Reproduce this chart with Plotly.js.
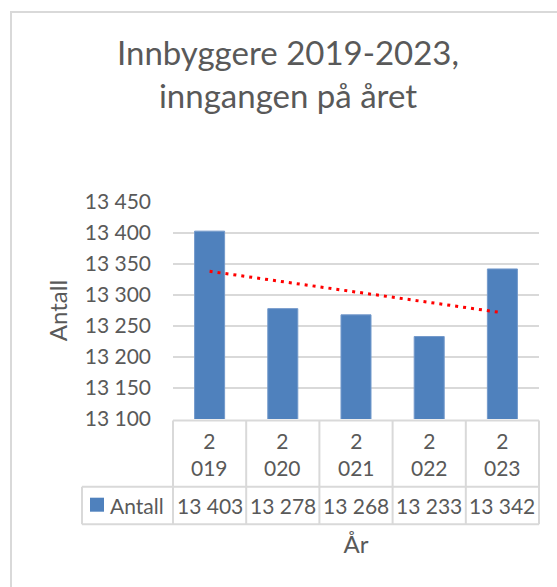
<!DOCTYPE html>
<html>
<head>
<meta charset="utf-8">
<script src="https://cdn.plot.ly/plotly-3.0.1.min.js"></script>
<style>
  html, body { margin: 0; padding: 0; background: #ffffff; }
  #chart { width: 557px; height: 587px; }
</style>
</head>
<body>
<div id="chart"></div>
<script>
// ---- data ----
const categories = ['2019', '2020', '2021', '2022', '2023'];
const categoryLabels = ['2 019', '2 020', '2 021', '2 022', '2 023'];
const values = [13403, 13278, 13268, 13233, 13342];
const seriesName = 'Antall';
const chartTitle = 'Innbyggere 2019-2023,<br>inngangen på året';
const xTitle = 'År';
const yTitle = 'Antall';
const yRange = [13100, 13450];
const yStep = 50;

// ---- styling / geometry ----
const W = 557, H = 587;
const M = { l: 173, r: 18, t: 202, b: 168 };
const plotW = W - M.l - M.r, plotH = H - M.t - M.b;
const px2x = px => (px - M.l) / plotW;
const px2y = py => (H - M.b - py) / plotH;
const textColor = '#595959';
const gridColor = '#d9d9d9';
const barColor = '#4f81bd';
const FONT = 'Lato, "Open Sans", sans-serif';

// linear trendline (least squares, as Excel computes it)
const n = values.length;
const xs = values.map((_, i) => i + 1);
const mx = xs.reduce((a, b) => a + b, 0) / n;
const my = values.reduce((a, b) => a + b, 0) / n;
let sxy = 0, sxx = 0;
xs.forEach((x, i) => { sxy += (x - mx) * (values[i] - my); sxx += (x - mx) * (x - mx); });
const slope = sxy / sxx;
const trend = xs.map(x => my + slope * (x - mx));

const fmt = v => String(v).replace(/\B(?=(\d{3})+(?!\d))/g, ' ');

const traces = [
  {
    type: 'bar',
    name: seriesName,
    x: categories,
    y: values,
    marker: { color: barColor, line: { color: '#7399cb', width: 1 } },
    hoverinfo: 'skip',
    showlegend: false
  },
  {
    type: 'scatter',
    mode: 'lines',
    name: 'Lineær (' + seriesName + ')',
    x: categories,
    y: trend,
    line: { color: '#ff0000', width: 3, dash: '3px,5px' },
    hoverinfo: 'skip',
    showlegend: false
  }
];

const lineStyle = { color: gridColor, width: 2 };
const shapes = [];
// chart border
shapes.push({ type: 'rect', xref: 'paper', yref: 'paper', layer: 'below',
  x0: px2x(11), x1: px2x(620), y0: px2y(12), y1: px2y(640),
  line: { color: gridColor, width: 2 }, fillcolor: 'rgba(0,0,0,0)' });
// data table
const yTop = px2y(420.5), yMid = px2y(486.7), yBot = px2y(524.3), xLeg = px2x(82);
shapes.push({ type: 'line', xref: 'paper', yref: 'paper', x0: 0, x1: 1, y0: yTop, y1: yTop, line: lineStyle });
shapes.push({ type: 'line', xref: 'paper', yref: 'paper', x0: xLeg, x1: 1, y0: yMid, y1: yMid, line: lineStyle });
shapes.push({ type: 'line', xref: 'paper', yref: 'paper', x0: xLeg, x1: 1, y0: yBot, y1: yBot, line: lineStyle });
shapes.push({ type: 'line', xref: 'paper', yref: 'paper', x0: xLeg, x1: xLeg, y0: yMid, y1: yBot, line: lineStyle });
for (let i = 0; i <= categories.length; i++) {
  const xp = i / categories.length;
  shapes.push({ type: 'line', xref: 'paper', yref: 'paper', x0: xp, x1: xp, y0: yTop, y1: yBot, line: lineStyle });
}
// legend key in the table
shapes.push({ type: 'rect', xref: 'paper', yref: 'paper',
  x0: px2x(90), x1: px2x(104), y0: px2y(511.7), y1: px2y(497.7),
  line: { width: 0 }, fillcolor: barColor });

const annotations = [];
categories.forEach((c, i) => {
  // category axis: position by category index
  annotations.push({ xref: 'x', yref: 'paper', x: i, y: px2y(453.5), yanchor: 'middle',
    text: categoryLabels[i].replace(' ', '<br>'), showarrow: false,
    font: { family: FONT, size: 21, color: textColor } });
  annotations.push({ xref: 'x', yref: 'paper', x: i, y: px2y(505.5), yanchor: 'middle',
    text: fmt(values[i]), showarrow: false,
    font: { family: FONT, size: 21, color: textColor } });
});
annotations.push({ xref: 'paper', yref: 'paper', x: px2x(108), y: px2y(505.5), xanchor: 'left', yanchor: 'middle',
  text: seriesName, showarrow: false, font: { family: FONT, size: 21, color: textColor } });

const tickvals = [];
for (let v = yRange[0]; v <= yRange[1]; v += yStep) tickvals.push(v);

const layout = {
  width: W, height: H,
  margin: M,
  paper_bgcolor: '#ffffff',
  plot_bgcolor: '#ffffff',
  separators: ', ',
  font: { family: FONT, color: textColor },
  title: {
    text: chartTitle,
    font: { family: FONT, size: 33, color: textColor },
    x: 288 / W, xanchor: 'center', xref: 'container',
    y: 1 - 65 / H, yanchor: 'top', yref: 'container'
  },
  bargap: 0.59,
  xaxis: {
    type: 'category',
    showticklabels: false, showgrid: false, zeroline: false, showline: false, ticks: '',
    range: [-0.5, categories.length - 0.5],
    title: { text: xTitle, font: { family: FONT, size: 24, color: textColor }, standoff: 117 },
    automargin: false
  },
  yaxis: {
    range: yRange,
    tickvals: tickvals,
    tickformat: ',d',
    showgrid: true, gridcolor: gridColor, gridwidth: 2,
    zeroline: false, showline: false, ticks: '',
    ticklabelstandoff: 21,
    tickfont: { family: FONT, size: 21, color: textColor },
    title: { text: yTitle, font: { family: FONT, size: 24, color: textColor }, standoff: 10 },
    automargin: false
  },
  shapes: shapes,
  annotations: annotations,
  showlegend: false
};

Plotly.newPlot('chart', traces, layout, { staticPlot: true, displayModeBar: false });
</script>
</body>
</html>
